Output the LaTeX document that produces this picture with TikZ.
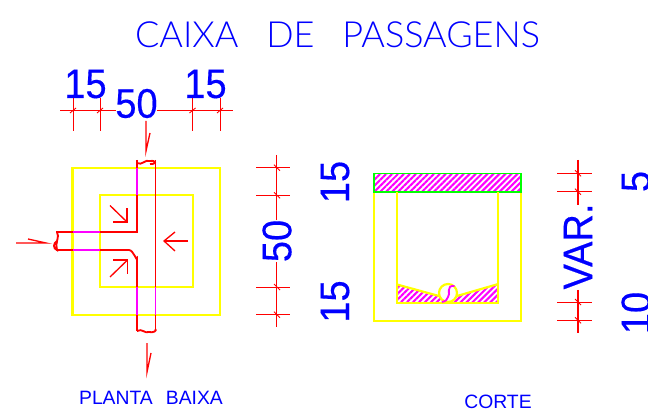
\documentclass[tikz,border=0pt]{standalone}
\usepackage{fontspec}
\setmainfont{Liberation Sans}
\newfontfamily\cadthin{Lato Light}
\newfontfamily\caddim{Liberation Sans}[FakeBold=0.4]
\usetikzlibrary{patterns.meta}
\definecolor{cadblue}{RGB}{0,0,255}
\definecolor{cadred}{RGB}{255,0,0}
\definecolor{cadyellow}{RGB}{255,255,0}
\definecolor{cadmagenta}{RGB}{255,0,255}
\definecolor{cadgreen}{RGB}{0,255,0}
\tikzset{
    wall/.style={draw=cadyellow,line width=1.25pt},
    pipe/.style={draw=cadred,line width=1.05pt},
    hidden/.style={draw=cadmagenta,line width=1.05pt},
    dimline/.style={draw=cadred,line width=0.5pt},
    flow/.style={draw=cadred,line width=0.75pt},
    hatched/.style={pattern={Lines[angle=45,distance=2.4pt,line width=1.2pt]},pattern color=cadmagenta},
    dimtext/.style={text=cadblue,inner sep=0pt,xscale=0.92,font=\caddim\fontsize{23.5}{24}\selectfont},
    labeltext/.style={text=cadblue,inner sep=0pt,font=\fontsize{11}{12}\selectfont}
}
\begin{document}
\begin{tikzpicture}[x=0.02cm,y=-0.02cm]
    \useasboundingbox (0,0) rectangle (648,411);

    % Title
    \node[text=cadblue,inner sep=0pt,font=\cadthin\fontsize{20.5}{21}\selectfont] (title) at (337.5,35) {CAIXA\hspace{0.5em} DE\hspace{0.5em} PASSAGENS};

    % Plan
    \draw[wall] (72.5,168) rectangle (220,315);
    \draw[wall] (100,195) rectangle (193,287);
    \draw[pipe] (137,160) -- (137,232) -- (56,232);
    \draw[pipe] (56,250) -- (129,250) to[out=0,in=-90] (137,258) -- (137,331);
    \draw[pipe] (155.5,160) -- (155.5,331);
    \draw[hidden] (137,168) -- (137,195);
    \draw[hidden] (137,287) -- (137,315);
    \draw[hidden] (155.5,287) -- (155.5,315);
    \draw[hidden] (73,232) -- (100,232);
    \draw[hidden] (73,250) -- (100,250);
    % broken ends
    \draw[pipe] (137,163) .. controls (142,166) and (145,159) .. (150,161) .. controls (157,160) and (156,165) .. (150,164);
    \draw[pipe] (137,331) .. controls (142,328) and (145,334) .. (149,332) .. controls (153,333) and (157,331) .. (155.5,329);
    \draw[pipe] (57,232) .. controls (60,238) and (55,240) .. (57,250) .. controls (53,249) and (53,243) .. (57,241);

    % Flow arrows
    \draw[flow] (110,205.5) -- (127,222);
    \draw[flow] (113,222) -- (127,222) -- (127,208);
    \draw[flow] (110,277) -- (127.5,260);
    \draw[flow] (113,260) -- (127.5,260) -- (127.5,274);
    \draw[flow] (188,241) -- (164,241);
    \draw[flow] (175,232) -- (164,241) -- (175,251);

    % Cut marks
    \draw[flow] (16,243) -- (46,243) -- (28,239);
    \draw[flow] (146,121) -- (146,151) -- (150,133);
    \draw[flow] (147,343) -- (147,372) -- (151,353);

    % Top dimensions
    \draw[dimline] (60,110.5) -- (116,110.5);
    \draw[dimline] (157,110.5) -- (233,110.5);
    \foreach \xpos in {73,100,192.5,220} {
        \draw[dimline] (\xpos,98) -- (\xpos,131);
        \draw[dimline] (\xpos-3,113) -- (\xpos+3,108);
    }
    \node[dimtext] (topleft) at (85.5,84) {15};
    \node[dimtext] (topmid) at (136.5,103.5) {50};
    \node[dimtext] (topright) at (205.5,84) {15};

    % Side dimensions
    \draw[dimline] (276.7,155) -- (276.7,220);
    \draw[dimline] (276.7,262) -- (276.7,327.5);
    \foreach \ypos in {167.7,195.3,287,314.7} {
        \draw[dimline] (256,\ypos) -- (290,\ypos);
        \draw[dimline] (274,\ypos-3) -- (280,\ypos+3);
    }
    \node[dimtext,xscale=1/0.92,yscale=0.92,rotate=90] (sidemid) at (277,241) {50};
    \node[dimtext,xscale=1/0.92,yscale=0.92,rotate=90] (sidetop) at (335,182) {15};
    \node[dimtext,xscale=1/0.92,yscale=0.92,rotate=90] (sidebot) at (335,301.5) {15};

    % Section
    \draw[wall] (374,192) -- (374,320.7) -- (521,320.7) -- (521,192);
    \filldraw[hatched,draw=cadgreen,line width=1.1pt] (374,173.5) rectangle (521,192);
    \path[hatched] (397,284.5) -- (448,298) -- (498,284.5) -- (498,303) -- (397,303) -- cycle;
    \draw[wall] (397,192) -- (397,303) -- (498.3,303) -- (498.3,192);
    \draw[wall] (397,284.5) -- (439,296);
    \draw[wall] (498.3,284) -- (457,296);
    \filldraw[wall,fill=white] (448,293) circle (9);
    \draw[hidden] (454.5,286) .. controls (445,285) and (451,295) .. (448,297) .. controls (447,300) and (446,301) .. (442,302);

    % Section dimensions
    \draw[dimline,line width=0.7pt] (578,160) -- (578,205);
    \draw[dimline,line width=0.7pt] (578,290) -- (578,333);
    \foreach \ypos in {173.3,191.7,302,320.3} {
        \draw[dimline] (557.3,\ypos) -- (591.7,\ypos);
        \draw[dimline] (575,\ypos-3) -- (581,\ypos+3);
    }
    \node[dimtext,xscale=1/0.92,yscale=0.92,rotate=90] (sectionvar) at (578,246.5) {VAR.};
    \node[dimtext,xscale=1/0.92,yscale=0.92,rotate=90] (sectiontop) at (636,181.5) {5};
    \node[dimtext,xscale=1/0.92,yscale=0.92,rotate=90] (sectionbot) at (636,313) {10};

    % Labels
    \node[labeltext] (plan) at (151,398) {PLANTA\hspace{0.4em} BAIXA};
    \node[labeltext] (cut) at (498,401.5) {CORTE};
\end{tikzpicture}
\end{document}
